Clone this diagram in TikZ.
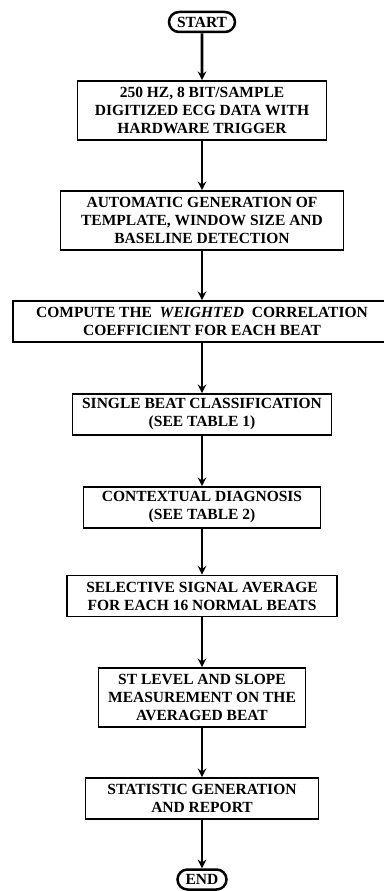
\documentclass[tikz,border=0pt]{standalone}
\usepackage{fontspec}
\setmainfont{Liberation Serif}
\usetikzlibrary{shapes.misc, arrows}
\tikzstyle{startstop} = [rounded rectangle,
minimum height=20pt,
inner sep=2pt,
text centered,
line width=2.5pt,
draw=black,
font=\bfseries\fontsize{15.5}{18}\selectfont]
\tikzstyle{process} = [rectangle,
minimum height=41pt,
inner sep=3pt,
align=center,
line width=1.6pt,
draw=black,
font=\bfseries\fontsize{15.5}{18}\selectfont]
\tikzstyle{longprocess} = [process,
minimum height=59pt]
\tikzstyle{arrow} = [line width=2.8pt,->,>=stealth]

\begin{document}
\begin{tikzpicture}[x=1pt, y=1pt, node distance=100pt]
\fill[white] (0,0) rectangle (383,-891);
\useasboundingbox (0,0) rectangle (383,-891);

\node (start) [startstop, minimum width=70pt] at (202,-22) {START};
\node (digitize) [longprocess, minimum width=249pt, below of=start, yshift=11.5pt] {250 HZ, 8 BIT/SAMPLE\\
DIGITIZED ECG DATA WITH\\ HARDWARE TRIGGER};
\node (template) [longprocess, minimum width=283pt, below of=digitize, yshift=-10pt] {AUTOMATIC GENERATION OF\\
TEMPLATE, WINDOW SIZE AND\\ BASELINE DETECTION};
\node (correl) [process, minimum width=378pt, below of=template, yshift=-1pt] {COMPUTE THE\enspace\textit{WEIGHTED}\enspace CORRELATION\\
COEFFICIENT FOR EACH BEAT};
\node (classify) [process, minimum width=259pt, below of=correl, yshift=7pt] {SINGLE BEAT CLASSIFICATION\\ (SEE TABLE 1)};
\node (diagnose) [process, minimum width=237pt, below of=classify, yshift=7pt] {CONTEXTUAL DIAGNOSIS\\ (SEE TABLE 2)};
\node (average) [process, minimum width=270pt, below of=diagnose, yshift=11.5pt] {SELECTIVE SIGNAL AVERAGE\\
FOR EACH 16 NORMAL BEATS};
\node (stlevel) [longprocess, minimum width=207pt, below of=average, yshift=-1.5pt] {ST LEVEL AND SLOPE\\
MEASUREMENT ON THE\\ AVERAGED BEAT};
\node (report) [process, minimum width=233pt, below of=stlevel, yshift=-1pt] {STATISTIC GENERATION\\ AND REPORT};
\node (stop) [startstop, minimum width=53pt, below of=report, yshift=19pt] {END};

\draw [arrow] (start) -- (digitize);
\draw [arrow] (digitize) -- (template);
\draw [arrow] (template) -- (correl);
\draw [arrow] (correl) -- (classify);
\draw [arrow] (classify) -- (diagnose);
\draw [arrow] (diagnose) -- (average);
\draw [arrow] (average) -- (stlevel);
\draw [arrow] (stlevel) -- (report);
\draw [arrow] (report) -- (stop);

\end{tikzpicture}
\end{document}
